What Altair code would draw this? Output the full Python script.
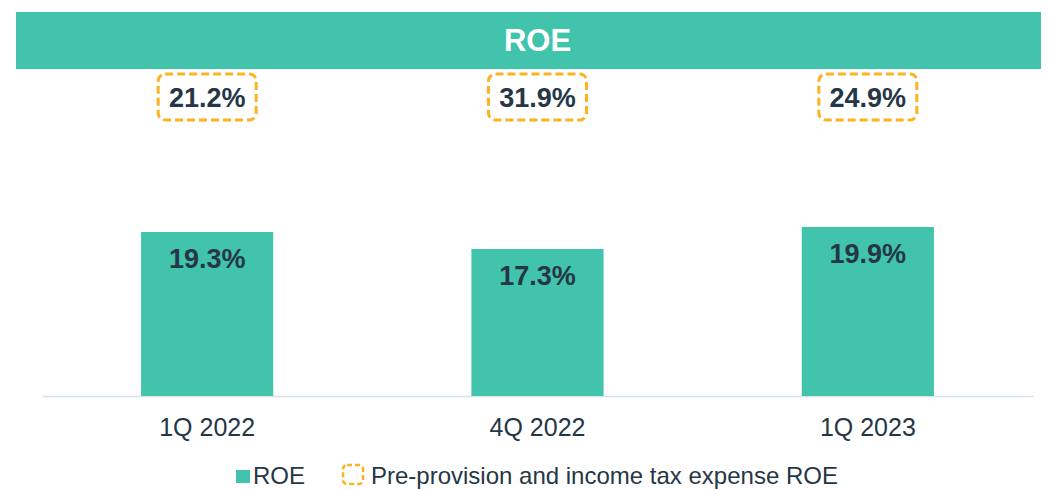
import altair as alt
import pandas as pd

# ---- data ----
quarters = ["1Q 2022", "4Q 2022", "1Q 2023"]
roe = [19.3, 17.3, 19.9]
pre_provision_roe = [21.2, 31.9, 24.9]
title_text = ["ROE"]
legend_labels = ["ROE", "Pre-provision and income tax expense ROE"]

TEAL = "#41C3AC"
DARK = "#253746"
ORANGE = "#FBB321"
FONT = "Liberation Sans"

W, H = 991, 384

df = pd.DataFrame({"q": quarters, "roe": roe, "pre": pre_provision_roe})
title_df = pd.DataFrame({"t": title_text})
leg_roe = pd.DataFrame({"t": [legend_labels[0]]})
leg_pre = pd.DataFrame({"t": [legend_labels[1]]})

x = alt.X(
    "q:N",
    sort=quarters,
    scale=alt.Scale(paddingInner=0.6, paddingOuter=0.3),
    axis=alt.Axis(
        title=None,
        labelAngle=0,
        labelFontSize=25,
        labelFont=FONT,
        labelColor=DARK,
        ticks=False,
        tickSize=0,
        domainColor="#D6E1EC",
        domainWidth=1.5,
        labelPadding=19,
    ),
)
yscale = alt.Scale(domain=[0, 45.2])

base = alt.Chart(df).transform_calculate(
    roe_label="format(datum.roe, '.1f') + '%'",
    pre_label="format(datum.pre, '.1f') + '%'",
)

bars = base.mark_bar(color=TEAL).encode(
    x=x, y=alt.Y("roe:Q", scale=yscale, axis=None)
)
bar_labels = base.mark_text(
    baseline="middle", dy=28, fontSize=27, fontWeight="bold", font=FONT, color=DARK
).encode(x=x, y=alt.Y("roe:Q", scale=yscale), text="roe_label:N")

boxes = base.mark_bar(
    width=98, cornerRadius=7, fill="white", stroke=ORANGE, strokeWidth=3,
    strokeDash=[8, 4]
).encode(x=x, y=alt.value(62), y2=alt.value(108))
box_labels = base.mark_text(
    baseline="middle", fontSize=27, fontWeight="bold", font=FONT, color=DARK
).encode(x=x, y=alt.value(87), text="pre_label:N")

title_bar = alt.Chart(title_df).mark_rect(color=TEAL).encode(
    x=alt.value(-26), x2=alt.value(1007), y=alt.value(0), y2=alt.value(57)
)
title_txt = alt.Chart(title_df).mark_text(
    fontSize=31, fontWeight="bold", font=FONT, color="white", baseline="middle"
).encode(x=alt.value(W / 2), y=alt.value(30), text="t:N")

leg_sq = alt.Chart(leg_roe).mark_rect(color=TEAL).encode(
    x=alt.value(194), x2=alt.value(208), y=alt.value(458), y2=alt.value(471)
)
leg_sq_txt = alt.Chart(leg_roe).mark_text(
    align="left", baseline="middle", fontSize=24, font=FONT, color=DARK
).encode(x=alt.value(211), y=alt.value(465), text="t:N")
leg_box = alt.Chart(leg_pre).mark_rect(
    fill="white", stroke=ORANGE, strokeWidth=2.5, strokeDash=[5, 3], cornerRadius=4
).encode(x=alt.value(301), x2=alt.value(321), y=alt.value(453), y2=alt.value(472))
leg_box_txt = alt.Chart(leg_pre).mark_text(
    align="left", baseline="middle", fontSize=24, font=FONT, color=DARK
).encode(x=alt.value(329), y=alt.value(465), text="t:N")

chart = alt.layer(
    title_bar, title_txt, bars, bar_labels, boxes, box_labels,
    leg_sq, leg_sq_txt, leg_box, leg_box_txt
).properties(
    width=W,
    height=H,
    autosize=alt.AutoSizeParams(type="none"),
    padding={"left": 34, "top": 4, "right": 8, "bottom": 93},
).configure_view(stroke=None)

chart.save("out.html", embed_options={"renderer": "svg", "actions": False})
